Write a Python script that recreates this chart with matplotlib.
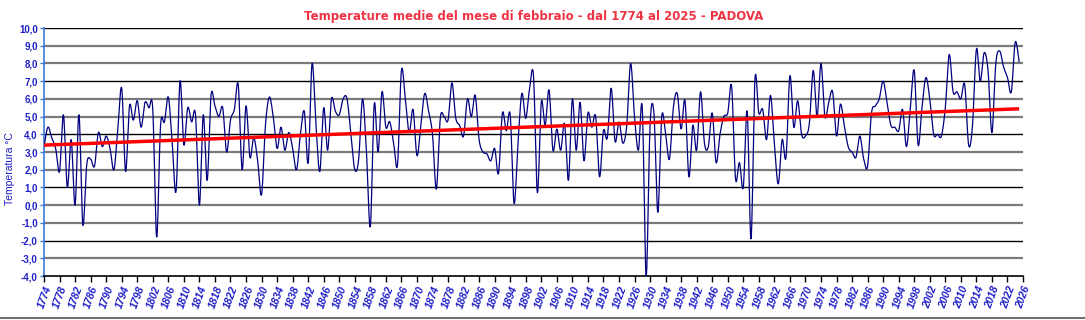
import numpy as np
import matplotlib
matplotlib.use("Agg")
import matplotlib.pyplot as plt
from matplotlib.lines import Line2D

# temperature medie di febbraio, Padova (letture dal grafico)
first_year = 1774
temps = [
    3.3, 4.4, 3.8, 3.2, 1.9, 5.1,                      # 1774-1779
    1.0, 3.7, 0.0, 5.1, -1.1, 2.3, 2.6, 2.2, 4.1, 3.3,  # 1780-1789
    3.9, 3.2, 2.0, 4.3, 6.6, 1.9, 5.6, 4.8, 5.9, 4.4,   # 1790-1799
    5.8, 5.5, 5.4, -1.8, 4.5, 4.7, 6.1, 3.5, 0.8, 7.0,  # 1800-1809
    3.4, 5.5, 4.7, 5.1, 0.0, 5.1, 1.4, 6.2, 5.6, 5.0,   # 1810-1819
    5.5, 3.0, 4.8, 5.4, 6.8, 2.0, 5.6, 2.7, 3.8, 2.5,   # 1820-1829
    0.6, 4.5, 6.1, 5.0, 3.2, 4.4, 3.1, 4.1, 3.2, 2.0,   # 1830-1839
    4.0, 5.3, 2.4, 8.0, 4.5, 1.9, 5.5, 3.1, 6.0, 5.3,   # 1840-1849
    5.1, 6.0, 6.0, 4.0, 2.0, 2.6, 6.0, 3.0, -1.2, 5.7,  # 1850-1859
    3.0, 6.4, 4.4, 4.7, 3.5, 2.3, 7.6, 6.0, 4.1, 5.4,   # 1860-1869
    2.8, 4.5, 6.3, 5.3, 4.0, 0.9, 4.9, 5.0, 4.8, 6.9,   # 1870-1879
    4.9, 4.5, 3.9, 6.0, 5.0, 6.2, 3.7, 3.0, 2.9, 2.5,   # 1880-1889
    3.2, 1.8, 5.2, 4.2, 5.1, 0.1, 3.5, 6.3, 4.9, 6.6,   # 1890-1899
    7.3, 0.7, 5.8, 4.5, 6.5, 3.1, 4.3, 3.1, 4.6, 1.4,   # 1900-1909
    6.0, 3.1, 5.8, 2.5, 5.2, 4.4, 5.0, 1.6, 4.2, 3.8,   # 1910-1919
    6.6, 3.6, 4.7, 3.5, 4.5, 8.0, 5.0, 3.1, 5.5, -4.0,  # 1920-1929
    4.5, 5.2, -0.4, 5.0, 4.0, 2.6, 5.5, 6.3, 4.3, 5.9,  # 1930-1939
    1.6, 4.5, 3.1, 6.4, 3.5, 3.3, 5.2, 2.4, 4.0, 5.0,   # 1940-1949
    5.2, 6.7, 1.5, 2.4, 1.0, 5.3, -1.9, 7.1, 5.2, 5.4,  # 1950-1959
    3.7, 6.2, 3.5, 1.2, 3.7, 2.7, 7.3, 4.4, 5.9, 4.0,   # 1960-1969
    3.9, 4.6, 7.6, 5.0, 8.0, 5.0, 5.8, 6.4, 3.9, 5.7,   # 1970-1979
    4.5, 3.3, 3.0, 2.7, 3.9, 2.6, 2.2, 5.2, 5.6, 6.0,   # 1980-1989
    7.0, 5.8, 4.5, 4.4, 4.2, 5.4, 3.3, 5.5, 7.6, 3.4,   # 1990-1999
    5.5, 7.2, 6.0, 4.0, 4.0, 3.9, 5.5, 8.5, 6.4, 6.4,   # 2000-2009
    6.0, 6.8, 3.4, 4.5, 8.8, 7.0, 8.6, 7.6, 4.1, 8.0,   # 2010-2019
    8.7, 7.8, 7.2, 6.4, 9.2, 8.1,                       # 2020-2025
]
years = np.arange(first_year, first_year + len(temps))
temps = np.array(temps)

x_ticks = np.arange(1774, 2027, 4)
y_ticks = np.arange(-4, 11, 1)

title = "Temperature medie del mese di febbraio - dal 1774 al 2025 - PADOVA"
ylabel = "Temperatura °C"


def smooth(x, y, n=12):
    # curva "smussata" tipo foglio di calcolo (catmull-rom / bezier)
    xs, ys = [], []
    px = np.concatenate(([x[0]], x, [x[-1]]))
    py = np.concatenate(([y[0]], y, [y[-1]]))
    t = np.linspace(0, 1, n, endpoint=False)
    for i in range(1, len(px) - 2):
        p0 = np.array([px[i - 1], py[i - 1]])
        p1 = np.array([px[i], py[i]])
        p2 = np.array([px[i + 1], py[i + 1]])
        p3 = np.array([px[i + 2], py[i + 2]])
        c1 = p1 + (p2 - p0) / 6
        c2 = p2 - (p3 - p1) / 6
        b = ((1 - t) ** 3)[:, None] * p1 + (3 * (1 - t) ** 2 * t)[:, None] * c1 \
            + (3 * (1 - t) * t ** 2)[:, None] * c2 + (t ** 3)[:, None] * p2
        xs.extend(b[:, 0])
        ys.extend(b[:, 1])
    xs.append(x[-1])
    ys.append(y[-1])
    return np.array(xs), np.array(ys)


blue = "#1f1fc8"

fig = plt.figure(figsize=(10.85, 3.2), dpi=100)
ax = fig.add_axes([44 / 1085, 1 - 276 / 320, (1023 - 44) / 1085, 248 / 320])

# griglia orizzontale
for i, v in enumerate(y_ticks[1:]):
    dark = (i % 3 == 1)
    ax.axhline(v, color="#000000" if dark else "#7a7a7a",
               lw=1.0 if dark else 1.6, zorder=1)

sx, sy = smooth(years, temps)
ax.plot(sx, sy, color="#000080", lw=0.9, zorder=3)

k, q = np.polyfit(years, temps, 1)
ax.plot([years[0], years[-1]], [k * years[0] + q, k * years[-1] + q],
        color="#ff0000", lw=2.5, zorder=4, solid_capstyle="butt")

ax.set_xlim(1774, 2026)
ax.set_ylim(-4, 10)
ax.set_xticks(x_ticks)
ax.set_yticks(y_ticks)
ax.set_yticklabels([f"{v:.1f}".replace(".", ",") for v in y_ticks],
                   fontsize=7, fontweight="bold", color=blue,
                   family="Liberation Sans")
ax.set_xticklabels([str(v) for v in x_ticks], rotation=70, ha="right",
                   va="top", rotation_mode="anchor", fontsize=7.5,
                   fontweight="bold", fontstyle="italic", color=blue,
                   family="Liberation Sans")
ax.tick_params(axis="y", length=3, width=1, color="#3a7ad8", pad=1.5)
ax.tick_params(axis="x", length=4, width=1, color="#000000", pad=2)

for s in ("top", "right"):
    ax.spines[s].set_visible(False)
ax.spines["left"].set_color("#3a7ad8")
ax.spines["left"].set_linewidth(1.2)
ax.spines["bottom"].set_color("#000000")
ax.spines["bottom"].set_linewidth(1.2)

ax.set_ylabel(ylabel, fontsize=7.5, color=blue, family="Liberation Sans")
ax.yaxis.set_label_coords(-0.030, 0.435)
ax.set_title(title, fontsize=8.5, fontweight="bold", color="#ee3344",
             family="DejaVu Sans", pad=6)

fig.add_artist(Line2D([0, 1], [2 / 320, 2 / 320], color="#707070", lw=1.5))

fig.savefig("out.png", dpi=100)
